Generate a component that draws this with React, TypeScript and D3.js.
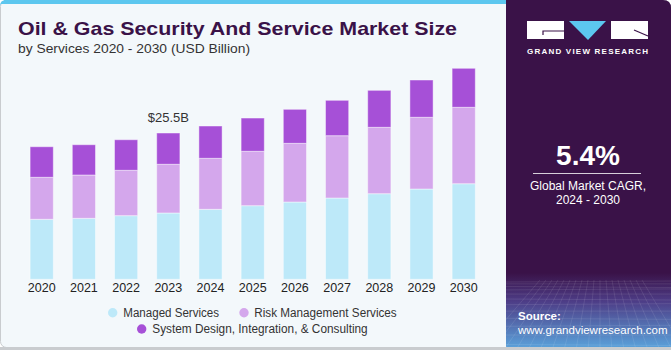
import React from "react";
import * as d3 from "d3";

const years = ["2020", "2021", "2022", "2023", "2024", "2025", "2026", "2027", "2028", "2029", "2030"];
const managedServices = [10.46, 10.63, 11.09, 11.56, 12.2, 12.83, 13.47, 14.17, 14.92, 15.74, 16.66];
const riskManagement = [7.32, 7.55, 7.91, 8.49, 8.89, 9.48, 10.23, 10.86, 11.57, 12.5, 13.32];
const systemDesign = [5.33, 5.28, 5.33, 5.45, 5.63, 5.8, 5.93, 6.17, 6.45, 6.5, 6.8];
const seriesNames = ["Managed Services", "Risk Management Services", "System Design, Integration, & Consulting"];
const seriesColors = ["#BDE9F9", "#D4A7EC", "#A650D7"];
const annotationYear = "2023";
const annotationText = "$25.5B";

export default function App() {
  const W = 671, H = 350;
  const data = years.map((y, i) => ({
    year: y,
    a: managedServices[i],
    b: riskManagement[i],
    c: systemDesign[i],
  }));
  const stack = d3.stack<any>().keys(["a", "b", "c"])(data as any);
  const x = d3.scaleBand().domain(years).range([20.6, 484.8]).paddingInner(0.45).paddingOuter(0.225);
  const y = d3.scaleLinear().domain([0, 30]).range([279.3, 279.3 - 30 * 5.737]);
  const annIdx = years.indexOf(annotationYear);
  const annTotal = managedServices[annIdx] + riskManagement[annIdx] + systemDesign[annIdx];

  const gridLines: JSX.Element[] = [];
  for (let i = 0; i < 14; i++) {
    const yy = 282 + i * i * 0.38 + i * 1.5;
    gridLines.push(<line key={"h" + i} x1={506} x2={671} y1={yy} y2={yy + (i % 3) - 1} stroke="#ffffff" strokeOpacity={0.12} strokeWidth={0.8} />);
  }
  for (let i = 0; i < 18; i++) {
    const xb = 480 + i * 12;
    const xt = 540 + i * 6;
    gridLines.push(<line key={"v" + i} x1={xt} x2={xb} y1={280} y2={350} stroke="#ffffff" strokeOpacity={0.12} strokeWidth={0.8} />);
  }

  return (
    <svg width={W} height={H} style={{ position: "absolute", left: 0, top: 0, display: "block" }} fontFamily="'Liberation Sans', Arial, sans-serif">
      <defs>
        <linearGradient id="panelGrad" x1="0" y1="0" x2="0" y2="1">
          <stop offset="0" stopColor="#3A1248" />
          <stop offset="0.78" stopColor="#3A1248" />
          <stop offset="0.86" stopColor="#4D3C86" />
          <stop offset="1" stopColor="#5BA6DE" />
        </linearGradient>
        <clipPath id="panelClip">
          <path d="M506,0 H663 Q671,0 671,8 V347 H506 Z" />
        </clipPath>
      </defs>
      <rect x={0.5} y={0.5} width={W - 1} height={H - 3} rx={6} fill="#F3F8FB" stroke="#C9CCCF" strokeWidth={1} />
      <rect x={4} y={0} width={505} height={4} fill="#5CC7EF" />
      <path d="M0,6 Q0,0 6,0 H8 V4 H1 Z" fill="#5CC7EF" />

      <g clipPath="url(#panelClip)">
        <rect x={506} y={0} width={165} height={350} fill="url(#panelGrad)" />
        {gridLines}
      </g>
      <rect x={0} y={347} width={W} height={3} fill="#C9CCCF" />

      <g>
        <rect x={527} y={21} width={37} height={18} fill="#ffffff" />
        <polyline points="564,31 543,31 543,35" fill="none" stroke="#3A1248" strokeWidth={1.2} />
        <path d="M569,21 L606,21 L588,40 Z" fill="#5CC7EF" />
        <rect x={611} y={21} width={37} height={18} fill="#ffffff" />
        <line x1={634} y1={30} x2={648} y2={36} stroke="#3A1248" strokeWidth={1.2} />
        <text x={527} y={53.5} fill="#ffffff" fontSize={8} fontWeight="bold" textLength={121} lengthAdjust="spacing">GRAND VIEW RESEARCH</text>
      </g>

      <text x={588} y={165} fill="#ffffff" fontSize={28} fontWeight="bold" textAnchor="middle">5.4%</text>
      <line x1={533} x2={641} y1={173.5} y2={173.5} stroke="#ffffff" strokeWidth={1} strokeOpacity={0.8} />
      <text x={588} y={190} fill="#ffffff" fontSize={12} textAnchor="middle">Global Market CAGR,</text>
      <text x={588} y={204} fill="#ffffff" fontSize={12} textAnchor="middle">2024 - 2030</text>
      <text x={518} y={320} fill="#ffffff" fontSize={11.5} fontWeight="bold">Source:</text>
      <text x={518} y={334} fill="#ffffff" fontSize={11.5}>www.grandviewresearch.com</text>

      <text x={18} y={35} fill="#3A1248" fontSize={19} fontWeight="bold" textLength={439} lengthAdjust="spacingAndGlyphs">Oil &amp; Gas Security And Service Market Size</text>
      <text x={18} y={53} fill="#333333" fontSize={13.5} textLength={232} lengthAdjust="spacingAndGlyphs">by Services 2020 - 2030 (USD Billion)</text>

      {stack.map((s, si) => (
        <g key={si} fill={seriesColors[si]}>
          {s.map((d: any, i: number) => (
            <rect key={i} x={x(years[i])} width={x.bandwidth()} y={y(d[1])} height={y(d[0]) - y(d[1])} stroke="#ffffff" strokeOpacity={0.45} strokeWidth={1} />
          ))}
        </g>
      ))}

      <text x={(x(annotationYear) as number) + x.bandwidth() / 2} y={y(annTotal) - 11.5} fontSize={13} fill="#333333" textAnchor="middle">{annotationText}</text>

      {years.map((yr) => (
        <text key={yr} x={(x(yr) as number) + x.bandwidth() / 2} y={292} fontSize={12.5} fill="#222222" textAnchor="middle">{yr}</text>
      ))}

      <circle cx={112.7} cy={312.7} r={4.7} fill={seriesColors[0]} />
      <text x={123.3} y={317} fontSize={12} fill="#333333" textLength={95.7} lengthAdjust="spacingAndGlyphs">{seriesNames[0]}</text>
      <circle cx={244} cy={312.7} r={4.7} fill={seriesColors[1]} />
      <text x={254.3} y={317} fontSize={12} fill="#333333" textLength={142.4} lengthAdjust="spacingAndGlyphs">{seriesNames[1]}</text>
      <circle cx={141.7} cy={329} r={4.7} fill={seriesColors[2]} />
      <text x={152.3} y={333.3} fontSize={12} fill="#333333" textLength={215.4} lengthAdjust="spacingAndGlyphs">{seriesNames[2]}</text>
    </svg>
  );
}
